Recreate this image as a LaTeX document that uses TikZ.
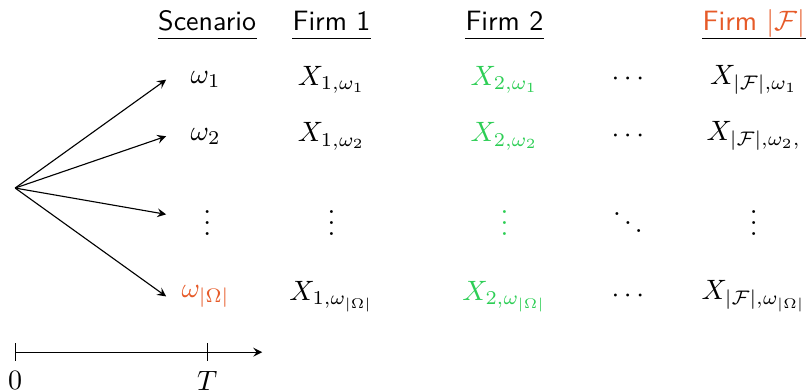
\documentclass[tikz,border=0pt]{standalone}
\definecolor{firmgreen}{RGB}{45,206,85}
\definecolor{lastorange}{RGB}{230,90,40}
\tikzset{
  head/.style={font=\sffamily, inner xsep=0pt, inner ysep=2.7pt, text depth=0pt, anchor=base},
  ticklabel/.style={anchor=north, inner sep=0pt}
}
\begin{document}
\begin{tikzpicture}[>=stealth]
\useasboundingbox (-0.19,-2.55) rectangle (9.95,2.36);
% column heads
\node[head] (hs) at (2.41,1.98) {Scenario};
\node[head] (h1) at (3.97,1.98) {Firm 1};
\node[head] (h2) at (6.14,1.98) {Firm 2};
\node[head] (hf) at (9.27,1.98) {\textcolor{lastorange}{Firm $|\mathcal{F}|$}};
\foreach \n in {hs,h1,h2,hf}
  \draw (\n.south west) -- (\n.south east);
% scenarios
\coordinate (o) at (0,0);
\coordinate (ax) at (1.895,0);
\node (w1) at (2.39,1.36) {$\omega_1$};
\node (w2) at (2.39,0.65) {$\omega_2$};
\node (wd) at (2.41,-0.33) {$\vdots$};
\node[text=lastorange] (wn) at (2.39,-1.36) {$\omega_{|\Omega|}$};
\foreach \n in {w1,w2,wd,wn}
  \draw[->] (o) -- (\n -| ax);
% firm 1
\node (a1) at (3.97,1.36) {$X_{1,\omega_1}$};
\node (a2) at (3.97,0.65) {$X_{1,\omega_2}$};
\node (ad) at (3.97,-0.33) {$\vdots$};
\node (an) at (3.97,-1.36) {$X_{1,\omega_{|\Omega|}}$};
% firm 2
\node[text=firmgreen] (b1) at (6.14,1.36) {$X_{2,\omega_1}$};
\node[text=firmgreen] (b2) at (6.14,0.65) {$X_{2,\omega_2}$};
\node[text=firmgreen] (bd) at (6.14,-0.33) {$\vdots$};
\node[text=firmgreen] (bn) at (6.14,-1.36) {$X_{2,\omega_{|\Omega|}}$};
% dots
\node (c1) at (7.69,1.36) {$\cdots$};
\node (c2) at (7.69,0.65) {$\cdots$};
\node (cd) at (7.69,-0.33) {$\ddots$};
\node (cn) at (7.69,-1.36) {$\cdots$};
% firm |F|
\node (f1) at (9.27,1.36) {$X_{|\mathcal{F}|,\omega_1}$};
\node (f2) at (9.27,0.65) {$X_{|\mathcal{F}|,\omega_2,}$};
\node (fd) at (9.27,-0.33) {$\vdots$};
\node (fn) at (9.27,-1.36) {$X_{|\mathcal{F}|,\omega_{|\Omega|}}$};
% time axis
\coordinate (t0) at (0,-2.06);
\coordinate (tT) at (2.41,-2.06);
\coordinate (te) at (3.10,-2.06);
\draw[->] (t0) -- (te);
\draw ([yshift=0.11cm]t0) -- ([yshift=-0.11cm]t0);
\draw ([yshift=0.11cm]tT) -- ([yshift=-0.11cm]tT);
\node[ticklabel] (l0) at ([yshift=-0.23cm]t0) {$0$};
\node[ticklabel] (lT) at ([yshift=-0.23cm]tT) {$T$};
\end{tikzpicture}
\end{document}
